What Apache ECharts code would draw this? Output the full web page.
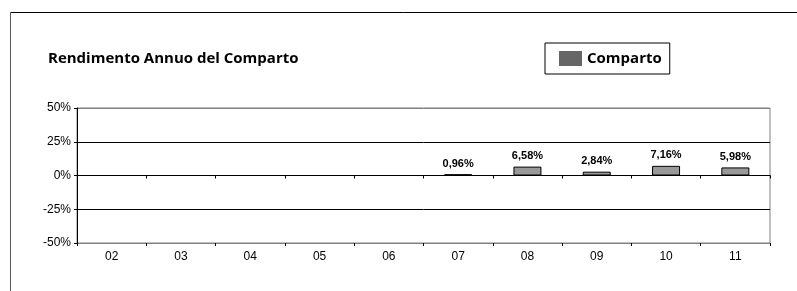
<!DOCTYPE html>
<html>
<head>
<meta charset="utf-8">
<script src="https://cdn.jsdelivr.net/npm/echarts@6/dist/echarts.min.js"></script>
<style>
html, body { margin: 0; padding: 0; background: #fff; }
#chart { width: 797px; height: 291px; }
</style>
</head>
<body>
<div id="chart"></div>
<script>
var years = ['02', '03', '04', '05', '06', '07', '08', '09', '10', '11'];
var comparto = [null, null, null, null, null, 0.96, 6.58, 2.84, 7.16, 5.98];
var yTicks = [-50, 50, 25];  // min, max, interval

var myChart = echarts.init(document.getElementById('chart'));

var option = {
    animation: false,
    backgroundColor: '#fff',
    title: {
        text: 'Rendimento Annuo del Comparto',
        left: 43,
        top: 46,
        textStyle: {
            fontFamily: 'Open Sans',
            fontWeight: 'bold',
            fontSize: 15,
            color: '#000'
        }
    },
    legend: {
        left: 545,
        top: 43,
        padding: [8, 8, 8, 14],
        borderColor: '#000',
        borderWidth: 1,
        itemWidth: 23,
        itemHeight: 15,
        itemGap: 7,
        textStyle: {
            fontFamily: 'Open Sans',
            fontWeight: 'bold',
            fontSize: 15,
            color: '#000'
        },
        data: [{ name: 'Comparto', icon: 'rect', itemStyle: { color: '#666', borderWidth: 0 } }]
    },
    grid: {
        left: 77,
        right: 27,
        top: 108,
        bottom: 48,
        show: true,
        borderColor: '#808080',
        borderWidth: 1
    },
    xAxis: [
        {
            type: 'category',
            data: years,
            axisLine: { onZero: true, lineStyle: { color: '#000' } },
            axisTick: { show: true, length: 3, inside: false, lineStyle: { color: '#000' } },
            axisLabel: { show: false }
        },
        {
            type: 'category',
            data: years,
            position: 'bottom',
            axisLine: { onZero: false, lineStyle: { color: '#808080' } },
            axisTick: { show: true, length: 3, lineStyle: { color: '#000' } },
            axisLabel: {
                fontFamily: 'Liberation Sans',
                fontSize: 12,
                color: '#000',
                margin: 8
            }
        }
    ],
    yAxis: {
        type: 'value',
        min: yTicks[0],
        max: yTicks[1],
        interval: yTicks[2],
        axisLine: { show: true, lineStyle: { color: '#000' } },
        axisTick: { show: true, length: 3, lineStyle: { color: '#000' } },
        axisLabel: {
            formatter: '{value}%',
            fontFamily: 'Liberation Sans',
            fontSize: 12,
            color: '#000',
            margin: 6
        },
        splitLine: {
            show: true,
            lineStyle: { color: ['#808080', '#000', '#000', '#000', '#808080'], width: 1 }
        }
    },
    series: [
        {
            name: 'Comparto',
            type: 'bar',
            xAxisIndex: 0,
            barWidth: 28,
            data: comparto,
            itemStyle: {
                color: '#999',
                borderColor: '#000',
                borderWidth: 1
            },
            label: {
                show: true,
                position: 'top',
                distance: 5,
                fontFamily: 'Liberation Sans',
                fontWeight: 'bold',
                fontSize: 11,
                color: '#000',
                formatter: function (p) {
                    return p.value.toFixed(2).replace('.', ',') + '%';
                }
            }
        }
    ],
    graphic: [
        { type: 'line', shape: { x1: 10.5, y1: 12.5, x2: 797, y2: 12.5 }, style: { stroke: '#000', lineWidth: 1 } },
        { type: 'line', shape: { x1: 10.5, y1: 12.5, x2: 10.5, y2: 291 }, style: { stroke: '#555', lineWidth: 1 } }
    ]
};

myChart.setOption(option);
window.addEventListener('resize', function () {
    myChart.resize();
});
</script>
</body>
</html>
